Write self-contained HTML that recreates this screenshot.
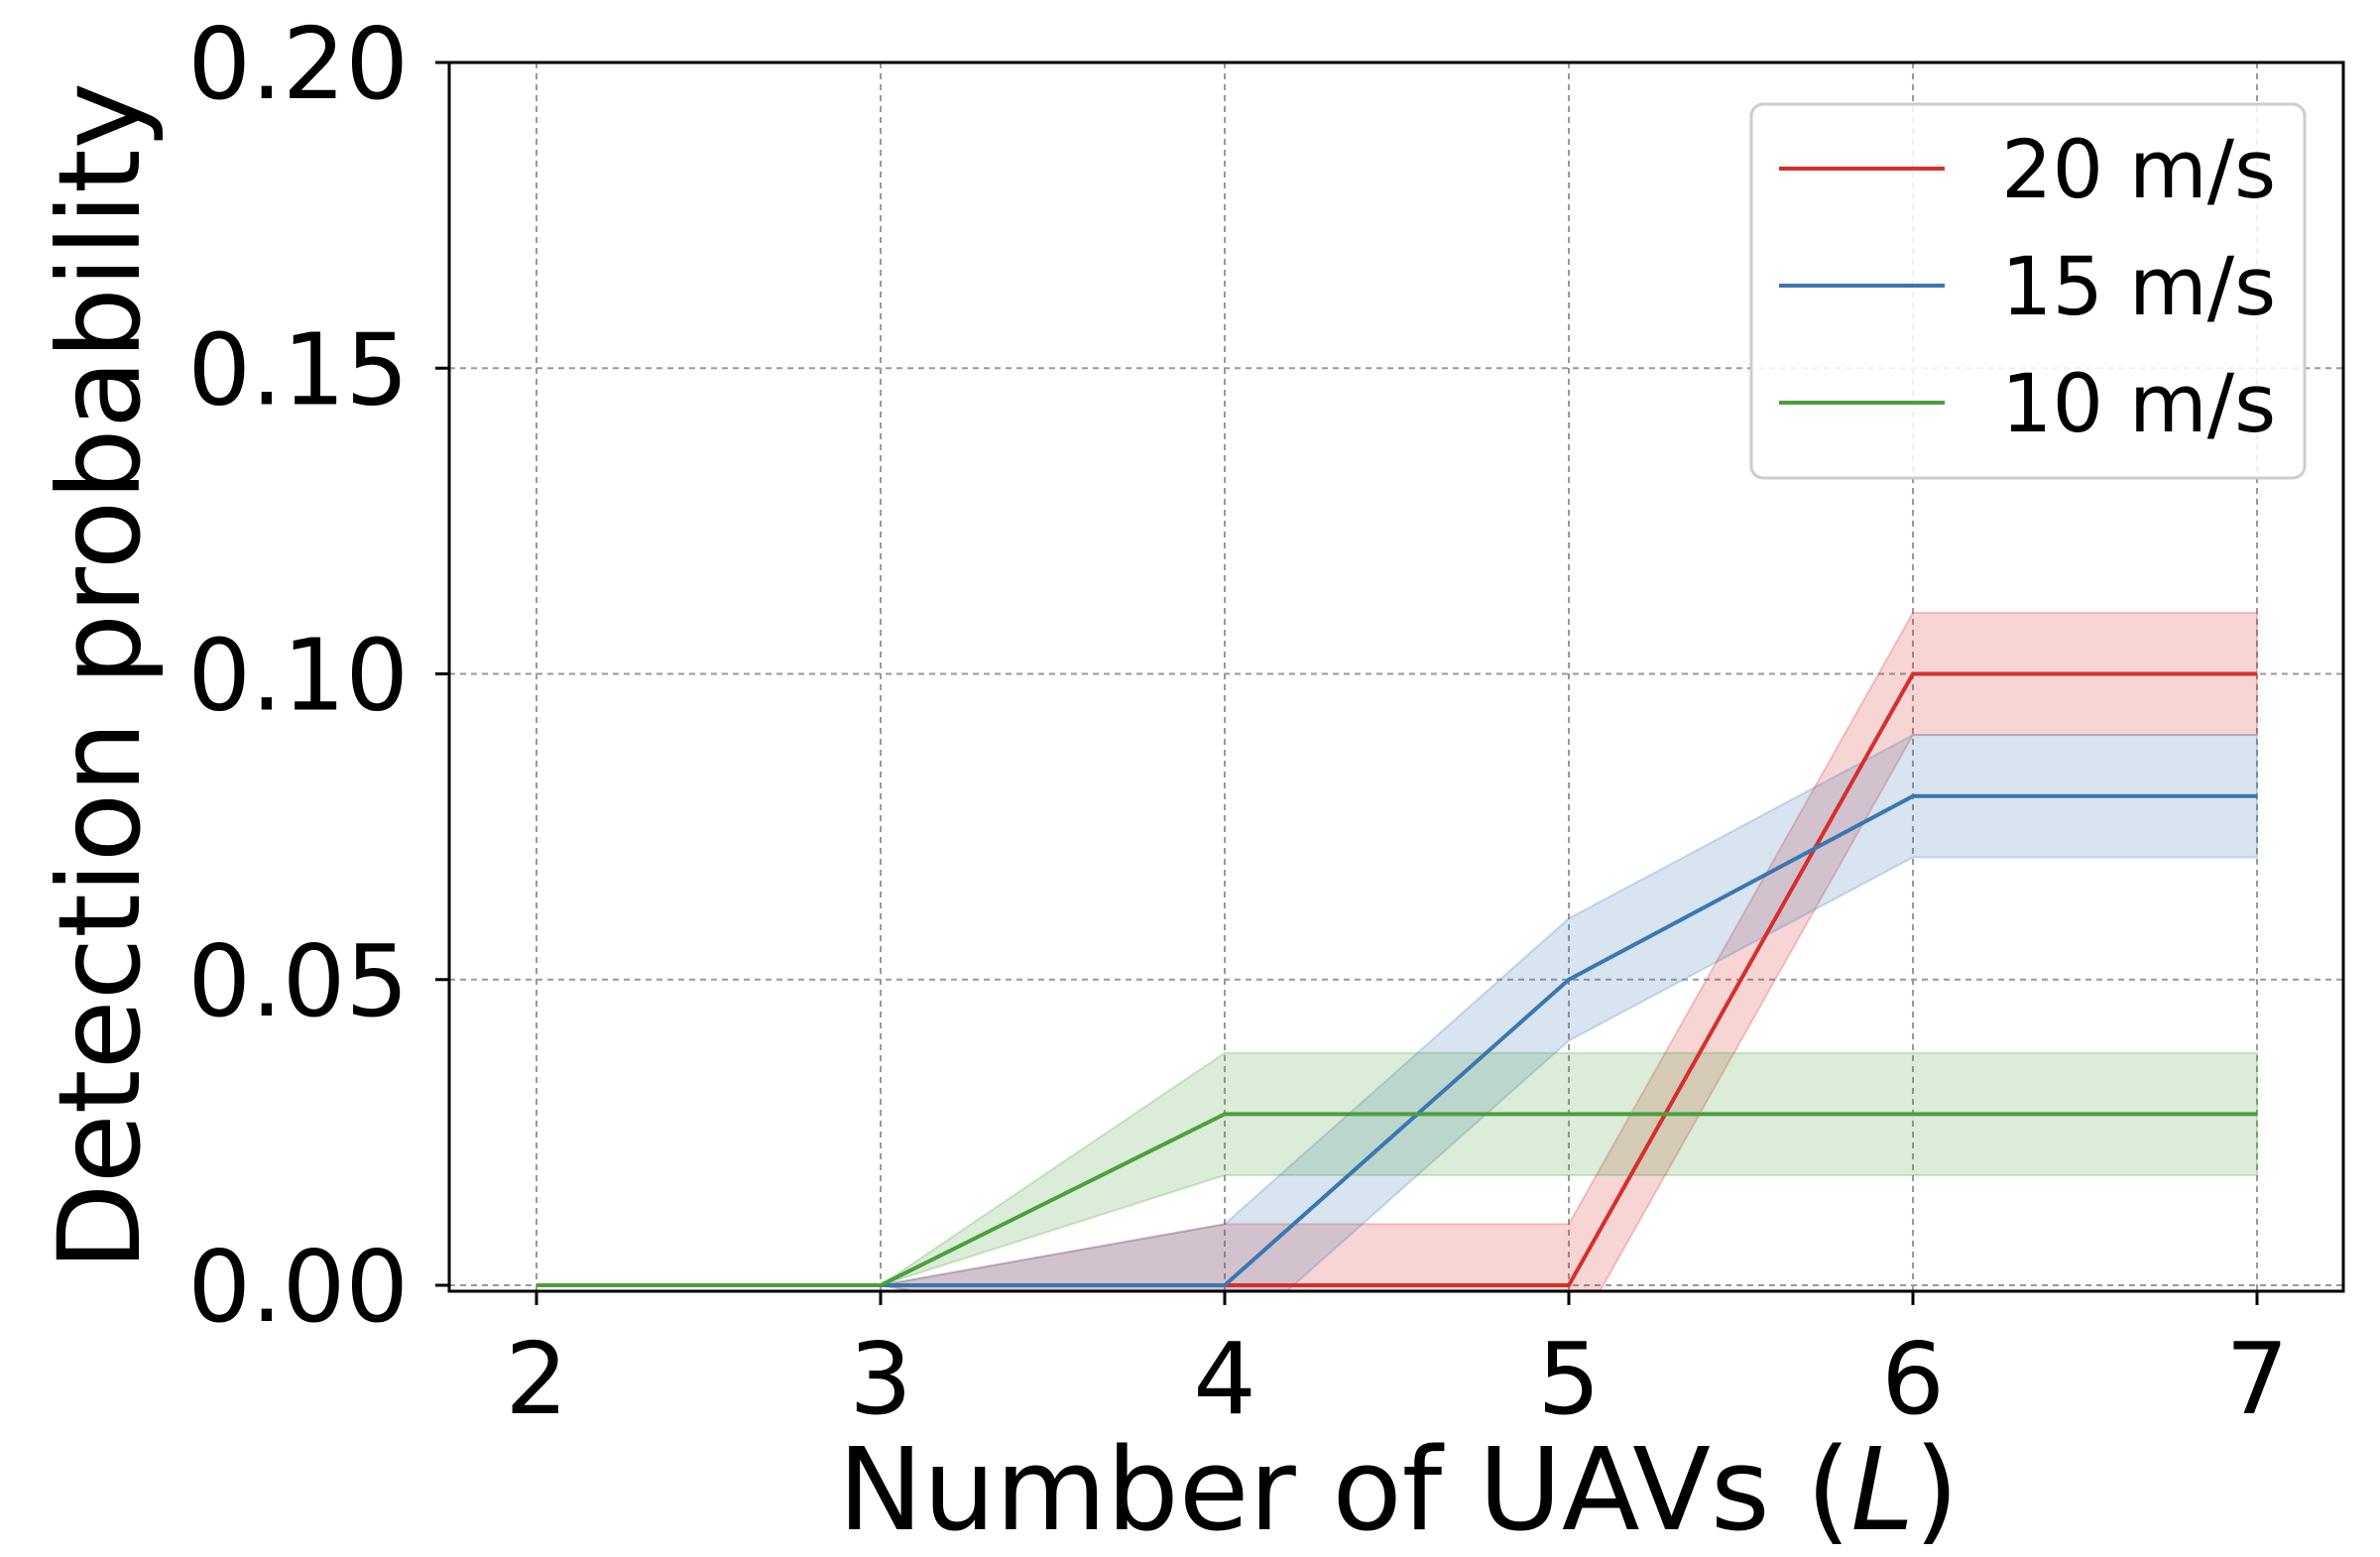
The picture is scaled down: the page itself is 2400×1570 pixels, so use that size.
<!DOCTYPE html>
<html><head><meta charset="utf-8"><style>
html,body{margin:0;padding:0;background:#fff;}
svg{display:block;font-family:"DejaVu Sans","Liberation Sans",sans-serif;}
</style></head><body>
<svg id="chart" width="2400" height="1570" viewBox="0 0 2400 1570">
<defs><clipPath id="pc"><rect x="453" y="63" width="1910" height="1239"/></clipPath></defs>
<g id="grid"></g>
<g id="bands" clip-path="url(#pc)"></g>
<g id="lines" clip-path="url(#pc)"></g>
<rect x="453" y="63" width="1910" height="1239" fill="none" stroke="#000" stroke-width="3"/>
<g id="ticks"></g>
<text x="1410" y="1542" font-size="115" text-anchor="middle">Number of UAVs (<tspan font-style="italic">L</tspan>)</text>
<text transform="translate(140,682) rotate(-90)" font-size="114" text-anchor="middle">Detection probability</text>
<g>
<rect x="1766" y="105" width="558" height="377" rx="12" fill="#fff" fill-opacity="0.85" stroke="#ccc" stroke-width="3"/>
<g id="legend-items"></g>
</g>
</svg>
<script>
const categories=[2,3,4,5,6,7];
const seriesNames=["20 m/s","15 m/s","10 m/s"];
const red=[0,0,0,0,0.1,0.1];
const blue=[0,0,0,0.05,0.08,0.08];
const green=[0,0,0.028,0.028,0.028,0.028];
const redStd=[0,0,0.01,0.01,0.01,0.01];
const blueStd=[0,0,0.01,0.01,0.01,0.01];
const greenStd=[0,0,0.01,0.01,0.01,0.01];
const xTicks=[2,3,4,5,6,7];
const yTicks=[0,0.05,0.10,0.15,0.20];
const yTickLabels=["0.00","0.05","0.10","0.15","0.20"];

const NS="http://www.w3.org/2000/svg";
function X(v){return 541+(v-2)*(2276-541)/5;}
function Y(v){return 1296-v*(1296-63)/0.2;}
function mk(tag,attrs,parent){const e=document.createElementNS(NS,tag);for(const k in attrs)e.setAttribute(k,attrs[k]);parent.appendChild(e);return e;}
const grid=document.getElementById('grid'),ticks=document.getElementById('ticks');
xTicks.forEach(t=>{
 const g=mk('line',{x1:X(t),x2:X(t),y1:63,y2:1302,stroke:'#999','stroke-width':2,'stroke-dasharray':'6,5'},grid);
 
 
 const tk=mk('line',{x1:X(t),x2:X(t),y1:1302,y2:1316,stroke:'#000','stroke-width':3},ticks);
 
 
 const tx=mk('text',{x:X(t),y:1425,'font-size':100,'text-anchor':'middle'},ticks);
 tx.textContent=String(t);
 
 
});
yTicks.forEach((t,i)=>{
 const g=mk('line',{x1:453,x2:2363,y1:Y(t),y2:Y(t),stroke:'#999','stroke-width':2,'stroke-dasharray':'6,5'},grid);
 
 
 const tk=mk('line',{x1:439,x2:453,y1:Y(t),y2:Y(t),stroke:'#000','stroke-width':3},ticks);
 
 
 const tx=mk('text',{x:412,y:Y(t)+36,'font-size':100,'text-anchor':'end'},ticks);
 tx.textContent=yTickLabels[i];
 
 
});
const series=[[red,redStd,'#d62f2b','red'],[blue,blueStd,'#3a76b2','blue'],[green,greenStd,'#4c9f3c','green']];
const bands=document.getElementById('bands'),lines=document.getElementById('lines'),leg=document.getElementById('legend-items');
series.forEach((s,si)=>{
 const [m,sd,c,n]=s;
 let up=categories.map((x,i)=>X(x)+','+Y(m[i]+sd[i]));
 let lo=categories.map((x,i)=>X(x)+','+Y(m[i]-sd[i])).reverse();
 const b=mk('polygon',{points:up.concat(lo).join(' '),fill:c,'fill-opacity':0.2,stroke:c,'stroke-opacity':0.25,'stroke-width':2},bands);
 
 
 const l=mk('polyline',{points:categories.map((x,i)=>X(x)+','+Y(m[i])).join(' '),fill:'none',stroke:c,'stroke-width':4},lines);
 
 
 const y=170+si*118;
 const ll=mk('line',{x1:1794,x2:1961,y1:y,y2:y,stroke:c,'stroke-width':4},leg);
 
 
 const lt=mk('text',{x:2018,y:y+29,'font-size':81},leg);
 lt.textContent=seriesNames[si];
 
 
});
</script>
</body></html>
